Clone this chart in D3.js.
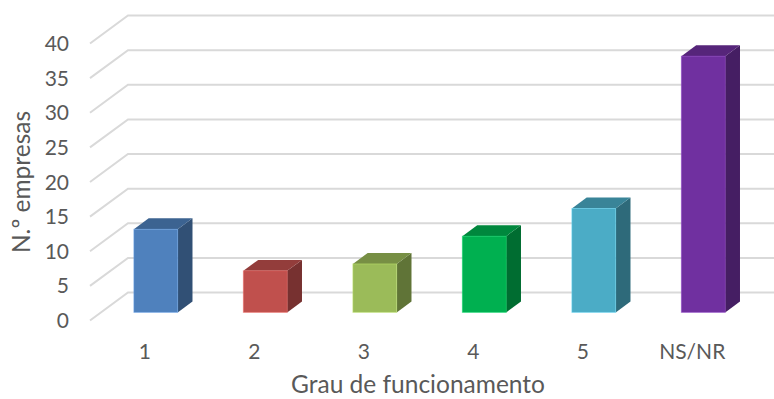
<!DOCTYPE html>
<html>
<head>
<meta charset="utf-8">
<script src="https://cdn.jsdelivr.net/npm/d3@7"></script>
<style>
  html, body { margin: 0; padding: 0; background: #fff; }
  svg { display: block; }
  text { font-family: Lato, "Open Sans", sans-serif; fill: #595959; }
</style>
</head>
<body>
<script>
// Number of companies by degree of operation
const categories = ["1", "2", "3", "4", "5", "NS/NR"];
const values = [12, 6, 7, 11, 15, 37];
const yTicks = [0, 5, 10, 15, 20, 25, 30, 35, 40];
const barColors = ["#4f81bd", "#c0504d", "#9bbb59", "#00b050", "#4bacc6", "#7030a0"];
const yTitle = "N.º empresas";
const xTitle = "Grau de funcionamento";

const W = 774, H = 399;
const svg = d3.select("body").append("svg").attr("width", W).attr("height", H);

// front plane of the 3D box and the depth direction
const x = d3.scaleBand().domain(categories).range([90, 747])
  .paddingInner(0.6).paddingOuter(0.3);
const y = d3.scaleLinear().domain([0, 40]).range([320.5, 43.5]);
const depth = { dx: 38, dy: -28 };      // floor / wall depth
const barNear = 0.29, barFar = 0.68;     // bar position inside the depth

// gridlines: a slanted side-wall segment plus the back-wall line
const grid = svg.append("g");
yTicks.forEach(t => {
  const yf = y(t);
  grid.append("path")
    .attr("d", `M${90},${yf}L${90 + depth.dx},${yf + depth.dy}L${W},${yf + depth.dy}`)
    .attr("fill", "none").attr("stroke", "#d9d9d9").attr("stroke-width", 2);
});

// y tick labels
svg.append("g").selectAll("text").data(yTicks).join("text")
  .attr("x", 69).attr("y", d => y(d)).attr("dy", "0.36em")
  .attr("text-anchor", "end").attr("font-size", 21)
  .text(d => d);

// 3D bars
const bars = svg.append("g");
categories.forEach((c, i) => {
  const v = values[i];
  const base = d3.color(barColors[i]);
  const ox = barNear * depth.dx, oy = barNear * depth.dy;
  const bx = (barFar - barNear) * depth.dx, by = (barFar - barNear) * depth.dy;
  const x0 = x(c) + ox, x1 = x0 + x.bandwidth();
  const yb = y(0) + oy, yt = y(v) + oy;
  const g = bars.append("g");
  // right side face
  g.append("path")
    .attr("d", `M${x1},${yb}L${x1 + bx},${yb + by}L${x1 + bx},${yt + by}L${x1},${yt}Z`)
    .attr("fill", base.darker(1.35));
  // top face
  g.append("path")
    .attr("d", `M${x0},${yt}L${x0 + bx},${yt + by}L${x1 + bx},${yt + by}L${x1},${yt}Z`)
    .attr("fill", base.darker(0.75));
  // front face
  g.append("rect")
    .attr("x", x0).attr("y", yt).attr("width", x1 - x0).attr("height", yb - yt)
    .attr("fill", base)
    .attr("stroke", base.brighter(0.6)).attr("stroke-opacity", 0.5).attr("stroke-width", 1);
});

// category labels along the front edge
svg.append("g").selectAll("text").data(categories).join("text")
  .attr("x", d => x(d) + x.bandwidth() / 2).attr("y", 359)
  .attr("text-anchor", "middle").attr("font-size", 21)
  .text(d => d);

// axis titles
svg.append("text")
  .attr("transform", `translate(30,${(y(0) + y(40)) / 2}) rotate(-90)`)
  .attr("text-anchor", "middle").attr("font-size", 24.5)
  .text(yTitle);
svg.append("text")
  .attr("x", 418).attr("y", 393)
  .attr("text-anchor", "middle").attr("font-size", 24.5)
  .text(xTitle);
</script>
</body>
</html>
